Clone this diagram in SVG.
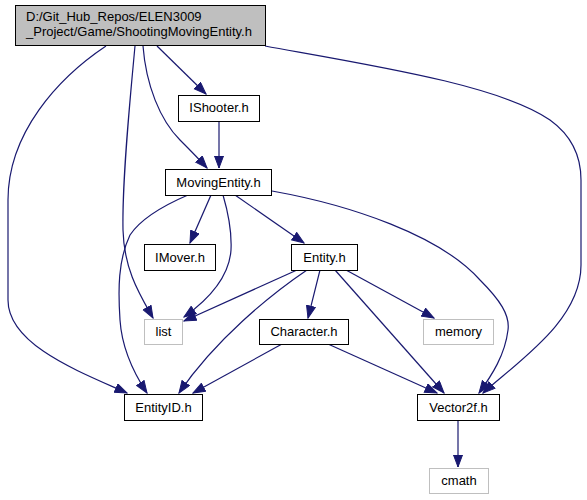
<svg xmlns="http://www.w3.org/2000/svg" width="587" height="500" viewBox="0 0 587 500">
<style>
.n{fill:#fff;stroke:#000;stroke-width:1}
.root{fill:#bfbfbf;stroke:#000;stroke-width:1}
.g{fill:#fff;stroke:#bfbfbf;stroke-width:1}
text{font-family:"Liberation Sans",Arial,sans-serif;font-size:13px;fill:#000}
.c{text-anchor:middle}
.e{fill:none;stroke:#191970;stroke-width:1.2;marker-end:url(#a)}
</style>
<defs>
<marker id="a" markerUnits="userSpaceOnUse" markerWidth="14" markerHeight="12" refX="12.5" refY="5" orient="auto">
<path d="M0.5,0.5 L12.5,5 L0.5,9.5 Z" fill="#191970" stroke="#191970"/>
</marker>
</defs>
<rect width="587" height="500" fill="#fff"/>
<g id="edges">
<path class="e" d="M106,46 C58,78 8,133 8,200 L8,300 C8,345 80,372 127,393"/>
<path class="e" d="M135,46 C130,100 122,180 123,230 C124,270 140,295 153,318"/>
<path class="e" d="M143,46 C146,85 160,120 180,140 C190,150 198,158 207,168"/>
<path class="e" d="M157,46 L206,94"/>
<path class="e" d="M265,46 C370,65 500,85 550,120 C575,138 581,160 581,180 L581,265 C581,320 520,360 483,393"/>
<path class="e" d="M219,121 L219,168"/>
<path class="e" d="M188,195 C160,207 140,220 130,235 C118,260 118,290 120,320 C122,350 135,375 147,393"/>
<path class="e" d="M211,195 L190,243"/>
<path class="e" d="M223,195 C228,212 232,230 231,250 C229,280 205,302 184,317"/>
<path class="e" d="M235,195 L304,243"/>
<path class="e" d="M272,191 C350,205 440,235 480,280 C500,300 510,315 508,330 C505,355 492,375 479,393"/>
<path class="e" d="M297,270 L184,321"/>
<path class="e" d="M307,270 C270,295 215,340 179,393"/>
<path class="e" d="M320,270 L308,318"/>
<path class="e" d="M335,270 L444,393"/>
<path class="e" d="M346,270 L434,318"/>
<path class="e" d="M282,344 L193,393"/>
<path class="e" d="M328,344 L437,393"/>
<path class="e" d="M458,420 L458,467"/>
</g>
<g id="root"><rect class="root" x="15.5" y="5.5" width="250" height="40"/><text x="26" y="21">D:/Git_Hub_Repos/ELEN3009</text><text x="26" y="36">_Project/Game/ShootingMovingEntity.h</text></g>
<g id="ishooter"><rect class="n" x="178.5" y="95.5" width="81" height="26"/><text class="c" x="219" y="112">IShooter.h</text></g>
<g id="movingentity"><rect class="n" x="165.5" y="169.5" width="106" height="26"/><text class="c" x="218.5" y="186.5">MovingEntity.h</text></g>
<g id="imover"><rect class="n" x="144.5" y="244.5" width="71" height="26"/><text class="c" x="180" y="261.5">IMover.h</text></g>
<g id="entity"><rect class="n" x="291.5" y="244.5" width="66" height="26"/><text class="c" x="324.5" y="261.5">Entity.h</text></g>
<g id="list"><rect class="g" x="144.5" y="319.5" width="38" height="25"/><text class="c" x="163.5" y="336">list</text></g>
<g id="character"><rect class="n" x="259.5" y="319.5" width="89" height="25"/><text class="c" x="304" y="336">Character.h</text></g>
<g id="memory"><rect class="g" x="423.5" y="319.5" width="70" height="25"/><text class="c" x="458.5" y="336">memory</text></g>
<g id="entityid"><rect class="n" x="124.5" y="394.5" width="78" height="26"/><text class="c" x="163.5" y="411.5">EntityID.h</text></g>
<g id="vector2f"><rect class="n" x="417.5" y="394.5" width="82" height="26"/><text class="c" x="458.5" y="411.5">Vector2f.h</text></g>
<g id="cmath"><rect class="g" x="429.5" y="468.5" width="59" height="25"/><text class="c" x="459" y="485">cmath</text></g>
</svg>
